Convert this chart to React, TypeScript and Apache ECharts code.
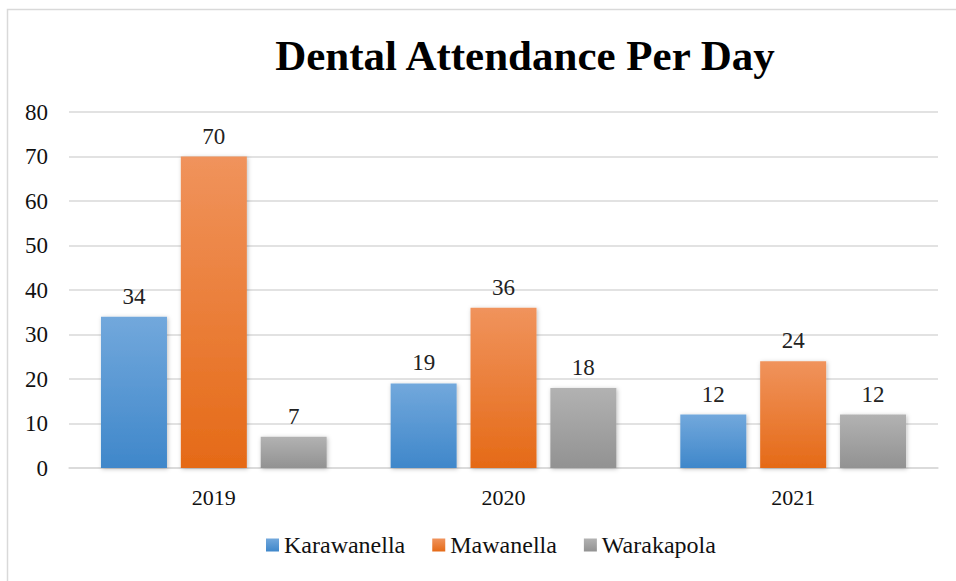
import React, { useEffect, useRef } from "react";
import * as echarts from "echarts";

const categories = ["2019", "2020", "2021"];
const karawanella = [34, 19, 12];
const mawanella = [70, 36, 24];
const warakapola = [7, 18, 12];
const seriesNames = ["Karawanella", "Mawanella", "Warakapola"];

const grad = (top: string, bottom: string) =>
  new echarts.graphic.LinearGradient(0, 0, 0, 1, [
    { offset: 0, color: top },
    { offset: 1, color: bottom },
  ]);

export default function App() {
  const ref = useRef<HTMLDivElement>(null);
  useEffect(() => {
    if (!ref.current) return;
    const chart = echarts.init(ref.current, null, { renderer: "svg" });
    const font = "'Liberation Serif', 'Times New Roman', serif";
    const mk = (name: string, data: number[], top: string, bottom: string) => ({
      name,
      type: "bar",
      data,
      barWidth: 66,
      barGap: "21%",
      itemStyle: {
        color: grad(top, bottom),
        shadowColor: "rgba(0,0,0,0.25)",
        shadowBlur: 4,
        shadowOffsetX: 1,
        shadowOffsetY: 1,
      },
      label: {
        show: true,
        position: "top",
        distance: 9,
        color: "#222",
        fontFamily: font,
        fontSize: 23,
      },
    });
    chart.setOption({
      animation: false,
      backgroundColor: "#fff",
      graphic: [
        {
          type: "rect",
          shape: { x: 7.5, y: 9.5, width: 1000, height: 1000 },
          style: { fill: "none", stroke: "#d9d9d9", lineWidth: 1.5 },
          silent: true,
        },
      ],
      title: {
        text: "Dental Attendance Per Day",
        left: 520,
        textAlign: "center",
        top: 29,
        textStyle: { fontFamily: font, fontSize: 43, fontWeight: "bold", color: "#000" },
      },
      legend: {
        bottom: 19,
        left: 261,
        itemWidth: 13,
        itemHeight: 13,
        itemGap: 27,
        icon: "rect",
        textStyle: { fontFamily: font, fontSize: 24, color: "#111", padding: [0, 0, 0, 0] },
        data: seriesNames,
      },
      grid: { left: 69, right: 18, top: 112, bottom: 113, containLabel: false },
      xAxis: {
        type: "category",
        data: categories,
        axisTick: { show: false },
        axisLine: { lineStyle: { color: "#d9d9d9", width: 1.5 } },
        axisLabel: { fontFamily: font, fontSize: 22, color: "#111", margin: 18 },
      },
      yAxis: {
        type: "value",
        min: 0,
        max: 80,
        interval: 10,
        axisLine: { show: false },
        axisTick: { show: false },
        splitLine: { lineStyle: { color: "#d9d9d9", width: 1.5 } },
        axisLabel: { fontFamily: font, fontSize: 23, color: "#111", margin: 21 },
      },
      series: [
        mk(seriesNames[0], karawanella, "#72a8dc", "#3f87ca"),
        mk(seriesNames[1], mawanella, "#f0935c", "#e56a17"),
        mk(seriesNames[2], warakapola, "#b2b2b2", "#929292"),
      ],
    });
    return () => chart.dispose();
  }, []);
  return (
    <div
      ref={ref}
      style={{ position: "fixed", left: 0, top: 0, width: 956, height: 581 }}
    />
  );
}
